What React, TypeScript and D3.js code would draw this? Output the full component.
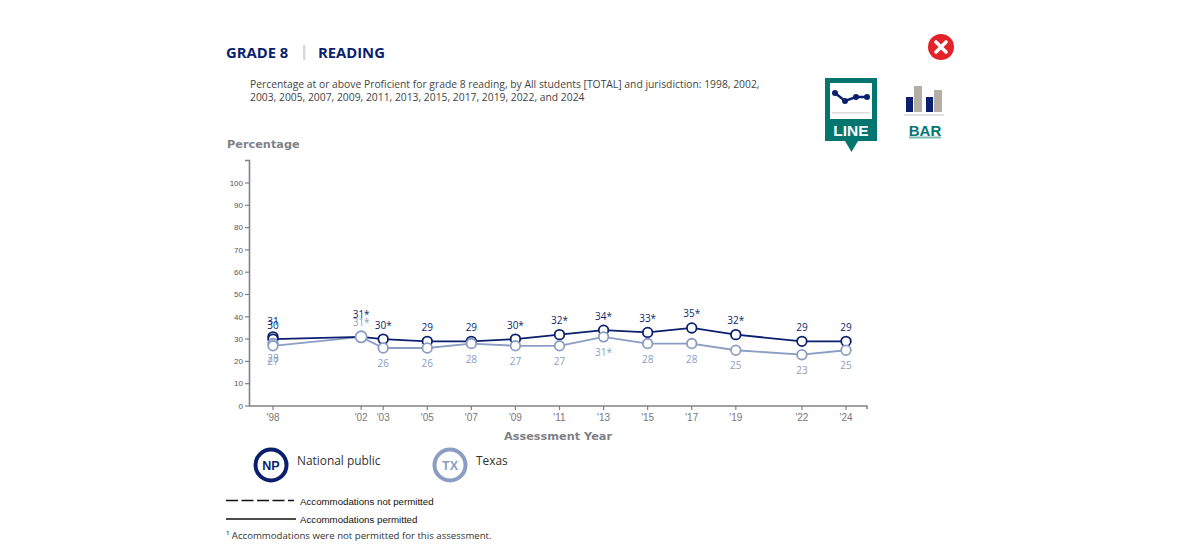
import React from "react";
import * as d3 from "d3";

const years = [1998, 2002, 2003, 2005, 2007, 2009, 2011, 2013, 2015, 2017, 2019, 2022, 2024];
const yearLabels = ["'98", "'02", "'03", "'05", "'07", "'09", "'11", "'13", "'15", "'17", "'19", "'22", "'24"];
const nationalValues = [30, 31, 30, 29, 29, 30, 32, 34, 33, 35, 32, 29, 29];
const nationalLabels = ["30", "31*", "30*", "29", "29", "30*", "32*", "34*", "33*", "35*", "32*", "29", "29"];
const texasValues = [27, 31, 26, 26, 28, 27, 27, 31, 28, 28, 25, 23, 25];
const texasLabels = ["27", "31*", "26", "26", "28", "27", "27", "31*", "28", "28", "25", "23", "25"];
const nationalNoAccommodation = { year: 1998, value: 31, label: "31" };
const texasNoAccommodation = { year: 1998, value: 28, label: "28" };
const yTicks = [0, 10, 20, 30, 40, 50, 60, 70, 80, 90, 100];

const NAVY = "#0b1f6f";
const LIGHT = "#8b9dc3";
const GREY = "#808285";
const TEAL = "#04756f";
const SANS = "'Open Sans', sans-serif";
const ARIAL = "'Liberation Sans', sans-serif";
const HEAVY = "'DejaVu Sans', sans-serif";

const x = d3.scaleLinear().domain([1998, 2024]).range([273, 846]);
const y = d3.scaleLinear().domain([0, 100]).range([406, 183]);

export default function App() {
  const line = d3.line<number>().x((_, i) => x(years[i])).y((d) => y(d));
  return (
    <svg width={1200} height={554} style={{ position: "absolute", left: 0, top: 0, background: "#fff" }}>
      <text x={226} y={58} fontFamily={SANS} fontWeight={700} fontSize={14.8} fill={NAVY}>GRADE 8</text>
      <rect x={303} y={45} width={2.5} height={15} fill="#d8d8d8" />
      <text x={318} y={58} fontFamily={SANS} fontWeight={700} fontSize={14.8} fill={NAVY}>READING</text>
      <text fontFamily={SANS} fontSize={10.33} fill="#444">
        <tspan x={250} y={88}>Percentage at or above Proficient for grade 8 reading, by All students [TOTAL] and jurisdiction: 1998, 2002,</tspan>
        <tspan x={250} y={101}>2003, 2005, 2007, 2009, 2011, 2013, 2015, 2017, 2019, 2022, and 2024</tspan>
      </text>

      <circle cx={941} cy={47} r={13} fill="#e3222a" />
      <path d="M936 42 L946 52 M946 42 L936 52" stroke="#fff" strokeWidth={3.6} strokeLinecap="round" />

      <path d="M825 78 H877 V141 H858 L851.500 152 L845 141 H825 Z" fill={TEAL} />
      <rect x={830} y={83} width={42} height={36} fill="#fff" />
      <rect x={832} y={112} width={38} height={1.5} fill="#ddd" />
      <path d="M835 93 L845 101 L856 97 L867 97" fill="none" stroke={NAVY} strokeWidth={2.4} />
      {[[835, 93], [845, 101], [856, 97], [867, 97]].map(([a, b], i) => <circle key={i} cx={a} cy={b} r={3} fill={NAVY} />)}
      <text x={851} y={136} textAnchor="middle" fontFamily={ARIAL} fontWeight={700} fontSize={15.5} fill="#fff">LINE</text>

      <rect x={906} y={97} width={7} height={15} fill={NAVY} />
      <rect x={914} y={86} width={8} height={26} fill="#b5aea4" />
      <rect x={926} y={97} width={7} height={15} fill={NAVY} />
      <rect x={934} y={90} width={8} height={22} fill="#b5aea4" />
      <rect x={904} y={114} width={40} height={2} fill="#e2e2e2" />
      <text x={925} y={136} textAnchor="middle" fontFamily={ARIAL} fontWeight={700} fontSize={15} fill={TEAL}>BAR</text>
      <rect x={909} y={136.500} width={32} height={2} fill="#7fb8b3" />

      <text x={227} y={148} fontFamily={HEAVY} fontWeight={700} fontSize={11.300} fill={GREY}>Percentage</text>

      <path d="M245 160.500 H249.500 V406 H867 V409" fill="none" stroke={GREY} strokeWidth={1.6} />
      {yTicks.map((t) => (
        <g key={t}>
          <line x1={245} x2={249.500} y1={y(t)} y2={y(t)} stroke={GREY} strokeWidth={1.2} />
          <text x={243} y={y(t) + 2.700} textAnchor="end" fontFamily={ARIAL} fontSize={8} fill="#555">{t}</text>
        </g>
      ))}
      {years.map((yr, i) => (
        <g key={yr}>
          <line x1={x(yr)} x2={x(yr)} y1={406} y2={410} stroke={GREY} strokeWidth={1.2} />
          <text x={x(yr)} y={421} textAnchor="middle" fontFamily={ARIAL} fontSize={10} fill="#777">{yearLabels[i]}</text>
        </g>
      ))}
      <text x={558} y={440} textAnchor="middle" fontFamily={HEAVY} fontWeight={700} fontSize={11.300} fill={GREY}>Assessment Year</text>

      <path d={line(texasValues) ?? ""} fill="none" stroke={LIGHT} strokeWidth={1.8} />
      <path d={line(nationalValues) ?? ""} fill="none" stroke={NAVY} strokeWidth={1.8} />

      <circle cx={x(nationalNoAccommodation.year)} cy={y(nationalNoAccommodation.value)} r={4.800} fill="#fff" stroke={NAVY} strokeWidth={1.8} />
      {nationalValues.map((v, i) => i === 1 ? null : (
        <circle key={i} cx={x(years[i])} cy={y(v)} r={4.800} fill="#fff" stroke={NAVY} strokeWidth={1.8} />
      ))}
      <circle cx={x(texasNoAccommodation.year)} cy={y(texasNoAccommodation.value)} r={4.800} fill="#fff" stroke={LIGHT} strokeWidth={1.8} />
      {texasValues.map((v, i) => (
        <circle key={i} cx={x(years[i])} cy={y(v)} r={i === 1 ? 5.600 : 4.800} fill="#fff" stroke={LIGHT} strokeWidth={1.8} />
      ))}

      <g fontFamily={SANS} fontSize={10} textAnchor="middle">
        <text x={x(1998)} y={y(nationalNoAccommodation.value) - 11.400} fill={NAVY}>{nationalNoAccommodation.label}</text>
        {nationalLabels.map((l, i) => (
          <text key={i} x={x(years[i])} y={y(nationalValues[i]) - (years[i] === 2002 ? 18.400 : 10.500)} fill={NAVY}>{l}</text>
        ))}
        <text x={x(1998)} y={y(texasNoAccommodation.value) + 18} fill={LIGHT}>{texasNoAccommodation.label}</text>
        {texasLabels.map((l, i) => (
          <text key={i} x={x(years[i])} y={texasValues[i] === nationalValues[i] ? y(texasValues[i]) - 10.400 : y(texasValues[i]) + 19} fill={LIGHT}>{l}</text>
        ))}
      </g>

      <circle cx={271} cy={465} r={15.500} fill="#fff" stroke={NAVY} strokeWidth={4} />
      <text x={271} y={470} textAnchor="middle" fontFamily={ARIAL} fontWeight={700} fontSize={12.500} fill={NAVY}>NP</text>
      <text x={297} y={465} fontFamily={SANS} fontSize={11.900} fill="#333">National public</text>
      <circle cx={450} cy={465} r={15.500} fill="#fff" stroke={LIGHT} strokeWidth={4} />
      <text x={450} y={470} textAnchor="middle" fontFamily={ARIAL} fontWeight={700} fontSize={12.500} fill={LIGHT}>TX</text>
      <text x={476} y={465} fontFamily={SANS} fontSize={11.900} fill="#333">Texas</text>

      <line x1={226} x2={294} y1={500.500} y2={500.500} stroke="#111" strokeWidth={1.6} strokeDasharray="12 3.500" />
      <text x={300} y={505} fontFamily={ARIAL} fontSize={9.700} fill="#111">Accommodations not permitted</text>
      <line x1={226} x2={296} y1={519} y2={519} stroke="#111" strokeWidth={1.6} />
      <text x={300} y={523} fontFamily={ARIAL} fontSize={9.700} fill="#111">Accommodations permitted</text>
      <text x={226} y={539} fontFamily={SANS} fontSize={9.650} fill="#333">¹ Accommodations were not permitted for this assessment.</text>
    </svg>
  );
}
